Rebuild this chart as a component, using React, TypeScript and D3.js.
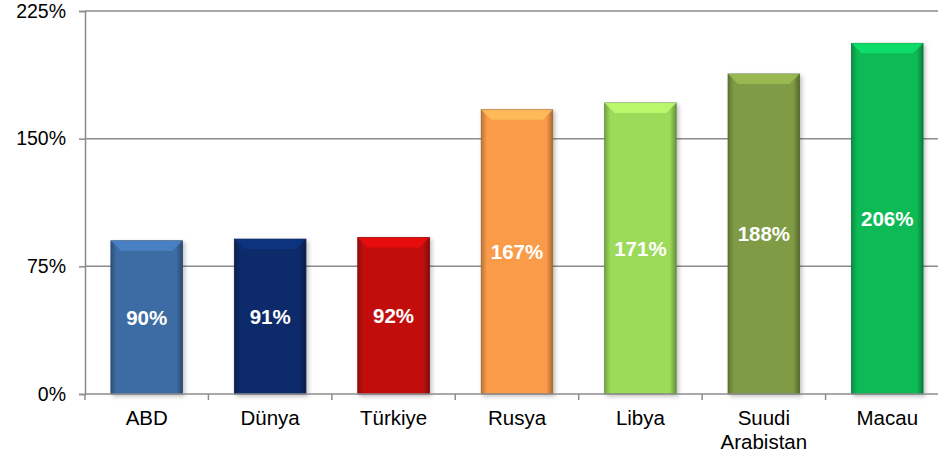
import React, { useEffect, useRef } from 'react';
import * as d3 from 'd3';

const categories = ['ABD', 'Dünya', 'Türkiye', 'Rusya', 'Libya', 'Suudi Arabistan', 'Macau'];
const values = [90, 91, 92, 167, 171, 188, 206];
const barColors = ['#3E6CA4', '#0E2A6A', '#C20B0B', '#F99B4A', '#9CDA5A', '#7F9B44', '#0BBA56'];
const yTicks = [0, 75, 150, 225];

export default function App() {
  const ref = useRef<SVGSVGElement>(null);

  useEffect(() => {
    const width = 938;
    const height = 458;
    const margin = { top: 11, bottom: 64, left: 85, right: -11 };
    const font = 'Liberation Sans, Arial, sans-serif';

    const svg = d3.select(ref.current);
    svg.selectAll('*').remove();

    const xScale = d3
      .scaleBand()
      .domain(categories)
      .range([margin.left, width - margin.right])
      .paddingInner(0.42)
      .paddingOuter(0.21);

    const yScale = d3
      .scaleLinear()
      .domain([0, 225])
      .range([height - margin.bottom, margin.top]);

    const defs = svg.append('defs');
    barColors.forEach((c, i) => {
      const base = d3.color(c) as d3.RGBColor;
      const g = defs
        .append('linearGradient')
        .attr('id', `side-${i}`)
        .attr('x1', 0)
        .attr('x2', 1)
        .attr('y1', 0)
        .attr('y2', 0);
      g.append('stop').attr('offset', '0%').attr('stop-color', base.darker(0.8).formatHex());
      g.append('stop').attr('offset', '8%').attr('stop-color', base.formatHex());
      g.append('stop').attr('offset', '91%').attr('stop-color', base.formatHex());
      g.append('stop').attr('offset', '100%').attr('stop-color', base.darker(1.1).formatHex());
    });

    const filter = defs.append('filter').attr('id', 'shadow').attr('x', '-20%').attr('y', '-20%').attr('width', '140%').attr('height', '140%');
    filter.append('feDropShadow').attr('dx', 2).attr('dy', 2).attr('stdDeviation', 2).attr('flood-opacity', 0.25);

    // gridlines
    svg
      .append('g')
      .selectAll('line')
      .data(yTicks.slice(1))
      .enter()
      .append('line')
      .attr('x1', margin.left)
      .attr('x2', width)
      .attr('y1', (d) => yScale(d))
      .attr('y2', (d) => yScale(d))
      .attr('stroke', '#8C8C8C')
      .attr('stroke-width', 1.5);

    const bw = xScale.bandwidth();
    const bars = svg
      .append('g')
      .selectAll('g')
      .data(values)
      .enter()
      .append('g')
      .attr('filter', 'url(#shadow)');

    bars
      .append('rect')
      .attr('x', (_, i) => xScale(categories[i]) as number)
      .attr('y', (d) => yScale(d))
      .attr('width', bw)
      .attr('height', (d) => yScale(0) - yScale(d))
      .attr('fill', (_, i) => `url(#side-${i})`)
      .attr('stroke', (_, i) => (d3.color(barColors[i]) as d3.RGBColor).darker(1.2).formatHex())
      .attr('stroke-width', 0.8);

    // top bevel
    bars
      .append('path')
      .attr('d', (d, i) => {
        const x0 = xScale(categories[i]) as number;
        const y0 = yScale(d);
        const b = 10;
        return `M${x0},${y0}L${x0 + bw},${y0}L${x0 + bw - b},${y0 + b}L${x0 + b},${y0 + b}Z`;
      })
      .attr('fill', (_, i) => (d3.color(barColors[i]) as d3.RGBColor).brighter(0.6).formatHex())
      .attr('opacity', 0.8);

    // value labels
    svg
      .append('g')
      .selectAll('text')
      .data(values)
      .enter()
      .append('text')
      .attr('x', (_, i) => (xScale(categories[i]) as number) + bw / 2)
      .attr('y', (d) => (yScale(d) + yScale(0)) / 2)
      .attr('dy', '0.35em')
      .attr('text-anchor', 'middle')
      .attr('fill', '#FFFFFF')
      .attr('font-family', font)
      .attr('font-weight', 'bold')
      .attr('font-size', 20.5)
      .text((d) => `${d}%`);

    // y axis
    const yAxis = d3
      .axisLeft(yScale)
      .tickValues(yTicks)
      .tickSize(6)
      .tickPadding(13)
      .tickFormat((d) => `${d}%`);
    const yg = svg.append('g').attr('transform', `translate(${margin.left},0)`).call(yAxis);
    yg.attr('font-size', 19.5).attr('font-family', font);
    yg.select('.domain').attr('stroke', '#8C8C8C').attr('stroke-width', 1.5);
    yg.selectAll('.tick line').attr('stroke', '#8C8C8C').attr('stroke-width', 1.5);
    yg.selectAll('.tick text').attr('fill', '#000');

    // x axis
    const step = xScale.step();
    const xg = svg.append('g').attr('font-family', font).attr('font-size', 20.5);
    xg.append('line')
      .attr('x1', margin.left)
      .attr('x2', width)
      .attr('y1', yScale(0))
      .attr('y2', yScale(0))
      .attr('stroke', '#8C8C8C')
      .attr('stroke-width', 1.5);
    xg.selectAll('line.tk')
      .data(d3.range(categories.length + 1))
      .enter()
      .append('line')
      .attr('class', 'tk')
      .attr('x1', (i) => margin.left + i * step)
      .attr('x2', (i) => margin.left + i * step)
      .attr('y1', yScale(0))
      .attr('y2', yScale(0) + 6)
      .attr('stroke', '#8C8C8C')
      .attr('stroke-width', 1.5);

    const labels = xg
      .selectAll('text')
      .data(categories)
      .enter()
      .append('text')
      .attr('x', (d) => (xScale(d) as number) + bw / 2)
      .attr('y', yScale(0) + 31)
      .attr('text-anchor', 'middle')
      .attr('fill', '#000');
    labels.each(function (d) {
      const t = d3.select(this);
      d.split(' ').forEach((w, j) => {
        t.append('tspan')
          .attr('x', (xScale(d) as number) + bw / 2)
          .attr('dy', j === 0 ? 0 : 24)
          .text(w);
      });
    });
  }, []);

  return (
    <svg
      ref={ref}
      width={938}
      height={458}
      style={{ position: 'absolute', left: 0, top: 0, background: '#fff' }}
    />
  );
}
